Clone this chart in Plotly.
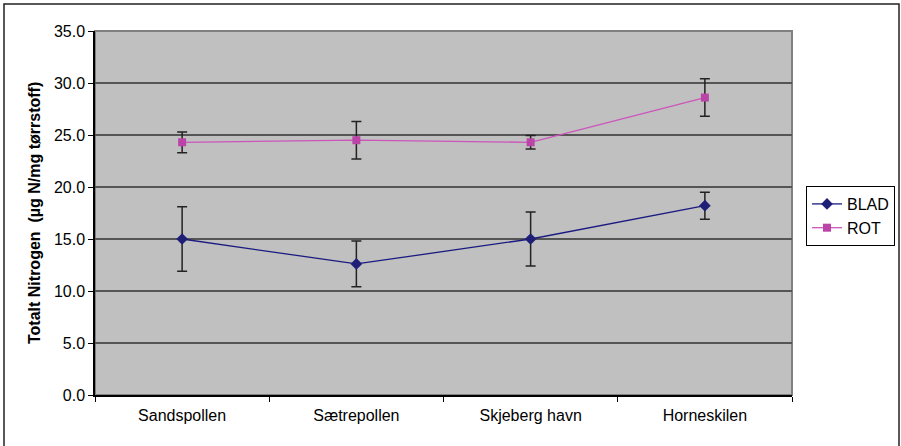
import plotly.graph_objects as go

steder = ["Sandspollen", "Sætrepollen", "Skjeberg havn", "Horneskilen"]
blad = [15.0, 12.6, 15.0, 18.2]
blad_feil = [3.1, 2.2, 2.6, 1.3]
rot = [24.3, 24.5, 24.3, 28.6]
rot_feil = [1.0, 1.8, 0.65, 1.8]

fig = go.Figure()
fig.add_trace(go.Scatter(
    x=steder, y=blad, name="BLAD", mode="lines+markers",
    line=dict(color="#1a1a80", width=1.3),
    marker=dict(symbol="diamond", size=9, color="#1f1f78"),
    error_y=dict(type="data", array=blad_feil, color="#222222", thickness=1.5, width=5),
))
fig.add_trace(go.Scatter(
    x=steder, y=rot, name="ROT", mode="lines+markers",
    line=dict(color="#cc55bb", width=1.3),
    marker=dict(symbol="square", size=8, color="#bb44a8"),
    error_y=dict(type="data", array=rot_feil, color="#222222", thickness=1.5, width=5),
))

# ramme rundt hele figuren (bunnkanten faller utenfor bildet)
fig.add_shape(type="rect", xref="paper", yref="paper",
              x0=(4 - 95) / 697, x1=(899 - 95) / 697,
              y0=(395 - 450) / 364, y1=(395 - 4) / 364,
              line=dict(color="#222222", width=1.5), layer="below")
# grå kant rundt plottområdet
fig.add_shape(type="rect", xref="paper", yref="paper", x0=0, x1=1, y0=0, y1=1,
              line=dict(color="#808080", width=2), layer="below")

# aksetittel som annotasjon for å styre plasseringen
fig.add_annotation(text="<b>Totalt Nitrogen  (µg N/mg tørrstoff)</b>",
                   xref="paper", yref="paper", x=(34 - 95) / 697, y=0.5,
                   xanchor="center", yanchor="middle",
                   textangle=-90, showarrow=False, font=dict(size=16))

fig.update_layout(
    width=901, height=446, autosize=False,
    margin=dict(l=95, r=109, t=31, b=51, autoexpand=False),
    paper_bgcolor="white", plot_bgcolor="#c0c0c0",
    font=dict(family="Liberation Sans, Arial", size=16, color="black"),
    showlegend=True,
    legend=dict(x=(806 - 95) / 697, y=(395 - 186) / 364, xanchor="left", yanchor="top",
                bordercolor="black", borderwidth=1, bgcolor="white",
                font=dict(size=16), tracegroupgap=0, itemwidth=30),
)
fig.update_xaxes(
    type="category", range=[-0.5, 3.5], tickson="boundaries", automargin=False,
    ticks="outside", ticklen=5, tickcolor="black", ticklabelstandoff=5,
    showline=True, linecolor="black", linewidth=1.5, showgrid=False,
    tickfont=dict(size=16),
)
fig.update_yaxes(
    range=[0, 35], dtick=5, tickformat=".1f", automargin=False,
    ticks="outside", ticklen=5, tickcolor="black",
    showline=True, linecolor="black", linewidth=1.5,
    showgrid=True, gridcolor="#555555", gridwidth=1.5,
    zeroline=False, tickfont=dict(size=16),
)

fig.write_html("out.html",
               config={"responsive": False, "displayModeBar": False},
               post_script="document.body.style.margin='0px';document.body.style.overflow='hidden';")
